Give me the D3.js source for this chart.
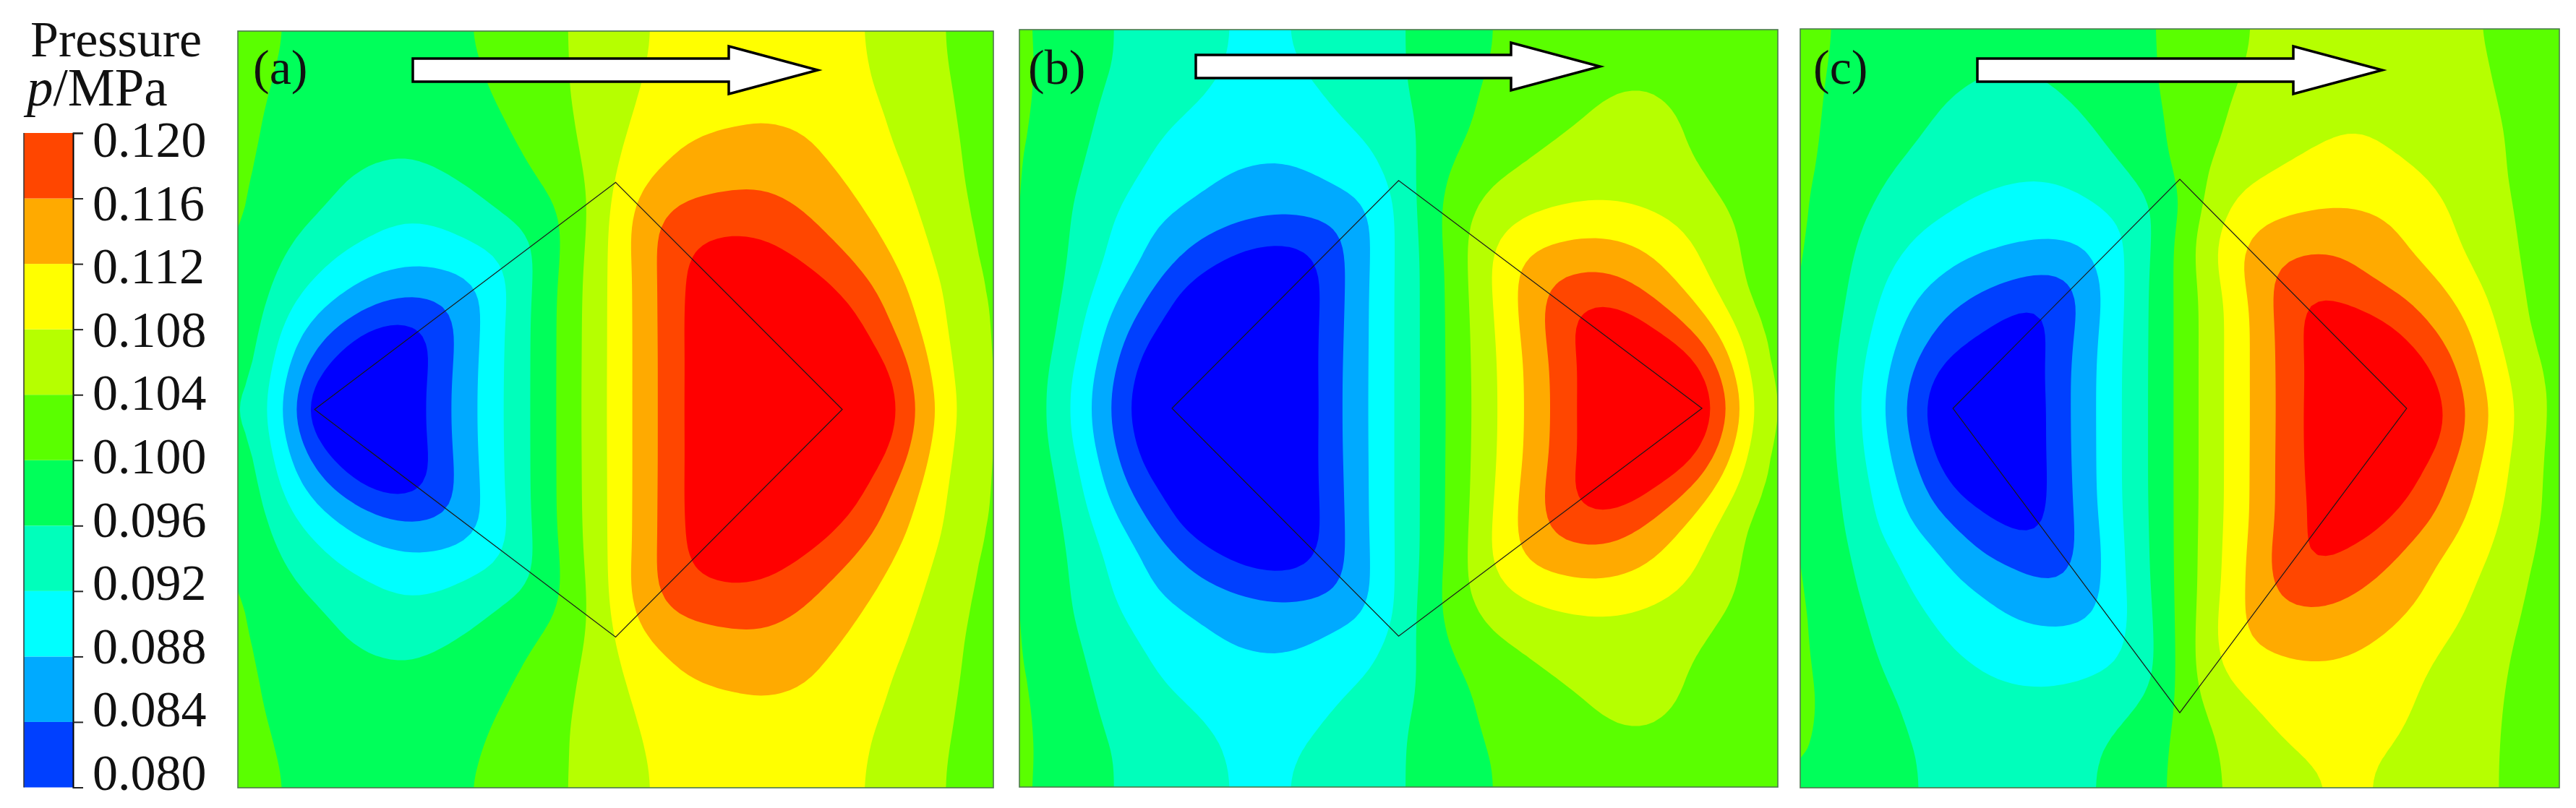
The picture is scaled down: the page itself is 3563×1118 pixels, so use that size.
<!DOCTYPE html>
<html lang="en">
<head>
<meta charset="UTF-8">
<title>Pressure contours</title>
<style>
  html, body { margin: 0; padding: 0; background: #fff; }
  svg { display: block; }
  text { font-family: "Liberation Serif", serif; fill: #111; }
</style>
</head>
<body>
<svg></svg>
<script src="https://d3js.org/d3.v7.min.js"></script>
<script>
// contour levels in 0.001 MPa
const levels = [80, 84, 88, 92, 96, 100, 104, 108, 112, 116, 120];
const tickLabels = ["0.080", "0.084", "0.088", "0.092", "0.096", "0.100", "0.104", "0.108", "0.112", "0.116", "0.120"];
const belowColor = "#0000ff";
const bandColors = ["#0040ff", "#00aaff", "#00ffff", "#00ffbb", "#00ff5a", "#5aff00", "#b6ff00", "#ffff00", "#ffaa00", "#ff4600", "#ff0000"];
const panelLabels = ["(a)", "(b)", "(c)"];

// pressure, top row down to the middle row (a and b are mirror symmetric)
const topA = [
  [102,100.5,99.5,99,98.5,98.5,98.5,99,99.9,101.1,102.3,103.5,104.9,106.3,107.8,109,109.8,110.4,110.8,110.6,110,108.8,107.3,105.9,104.5,103,102],
  [102,100.3,99.3,98.8,98.2,98,98,98.6,99.6,100.9,102.1,103.4,104.8,106.4,107.9,109.2,110.1,110.8,111.2,111,110.3,109,107.5,106.1,104.6,103.1,102],
  [101.8,100,98.9,98.2,97.7,97.4,97.4,97.9,99.1,100.6,102,103.4,104.9,106.6,108.3,109.7,110.4,110.5,110.7,110.6,110.3,109.3,107.8,106.3,104.9,103.4,102],
  [101.5,99.6,98.4,97.6,97.2,97,97,97.3,98.3,99.7,101.2,102.9,104.8,107,108.9,110.3,110.9,111.2,111.6,111.4,111,110.2,108.5,107,105.2,103.5,102],
  [101.3,99.5,98,97,96.9,96.6,96.6,96.9,97.8,99.1,100.4,102.4,104.5,107.6,109.5,111.9,112.8,113.4,113.7,113.2,111.8,110.3,108.8,107.3,105.8,103.7,102],
  [101,99,97.8,96.9,96.1,95.3,95.1,96,96.9,98,99.6,101.2,104,108,111.6,113.3,114.3,114.9,115.2,114.6,113.3,111.5,110,108,106,103.9,102],
  [100.9,98.9,97.6,96.3,94.7,93.3,92.8,93.5,94.8,96.7,98.3,99.8,103.3,109.2,113.9,116.4,117,117.2,117.2,116.2,114.9,112.7,110.9,108.8,106.5,104.2,102.3],
  [100.9,98.2,96,94.5,93,91.8,91.2,91.5,92.7,94,95.4,99,104,109.4,115.1,118.4,119.5,120.2,119.7,118.5,116.4,114.4,112.2,109.7,107.2,104.6,102.5],
  [100.5,97,94.9,92.3,90.2,89,88.3,88.6,89.8,91.2,94.9,99.7,104.5,109.4,114,118.9,122,123,122.6,121,119.2,116.6,113.8,110.8,107.9,105,102.7],
  [100,96.5,92.5,89.8,87.3,85.2,84.4,84.8,86,90.3,95.7,100.1,104.6,109.4,114,118.7,122.5,124,124.3,123.5,122,119.3,116.4,112,109.2,105.4,103],
  [100,95.1,90.1,86,82.9,80.6,79.6,81.5,86.2,91.3,95.7,100.1,104.8,109.3,114,118.6,123,124.6,125,124.8,124,122,118,113.4,109.3,105.6,103],
  [99.8,94.2,87.2,82.1,78,74,76,82.2,86.5,91.3,95.7,100.1,104.8,109.3,114,118.5,122.8,125,125.5,125.5,125,124,120.3,115.7,110.3,105.8,103],
  [98.5,93.4,85.1,78,74,72.5,78,82.4,86.9,91.4,95.7,100.1,104.9,109.3,114,118.5,122.8,125.5,126,126,126,125.5,123.5,117.4,111.1,106,103],
  [97,92.8,83.6,72,71,71,78.1,82.5,86.9,91.4,95.7,100.1,104.9,109.3,114,118.5,122.8,126,127,127,127,127,125,118.2,112.4,106.5,102.8]
];

const topB = [
  [101,99,98,96,95.2,94.5,93.2,92,91.5,91.6,92.7,93.8,94.8,95.7,96.8,98.2,99.9,100.8,101.5,102,102.5,102.8,102.8,102.6,102.3,101.8,101.4],
  [101.2,99.1,97.8,96.2,95.2,94.4,93.2,91.9,91.4,91.5,92.4,93.5,94.6,95.7,96.9,98.2,99.9,100.9,101.6,102.2,102.7,103,103,102.8,102.4,101.9,101.4],
  [101.2,99,97.3,95.7,94.8,93.8,92.4,91.6,91.3,91.3,91.6,92.9,94.2,95.5,97.1,98.7,100.5,101.6,102.5,103,103.8,104.2,103.9,103.1,102.6,101.9,101],
  [101.2,98.8,97,95.4,93.9,92.5,91.6,91,90.6,90.5,90.9,92,93.6,94.9,96.9,98.9,100.8,102,103,103.8,104.5,104.9,104.6,103.8,102.8,101.9,101],
  [101,98.4,96.6,95,93,91.4,90.5,89.5,89,88.9,89.4,90.5,91.7,93.6,97.6,99.6,101.5,103,104.1,104.6,104.9,105,104.6,104,103,102,101],
  [101,98.2,96.4,94.1,92.1,90.7,89.3,87.9,87.3,87.1,87.9,89.4,90.9,93.3,98,101,103.2,104.2,105,105.4,105.6,105.5,105,104.5,103.2,102,101],
  [101,98,95.5,93.2,90.9,89.1,87.7,86.7,85.9,85.4,85.6,86.4,87.4,92.5,98.5,102.1,104.9,106.4,107.5,108.2,108.6,108.1,107.2,106,104.1,102.7,101],
  [100.9,98,95.3,92.3,89.2,86.8,85,83.4,82,81.4,81.8,83,87.7,92.7,97.5,103,106.5,109.2,110.5,111.3,111.5,110.8,109.5,107.8,105.8,102.9,101],
  [101,98.2,94.7,91.6,89,85.4,82.2,79.4,77.5,77,78.5,83,88,92.6,97.3,101.9,107.6,112.2,114.2,115,115.2,114,112,109,106,103.2,101.5],
  [100.8,98,94,90.3,86.1,81.4,77.5,76,75,75,78,83.3,88.2,92.6,97.3,101.9,107.1,111.8,116.5,118.3,118.8,116.8,114.2,111.5,107.5,103,101.5],
  [100.7,97.4,93.2,88.1,83.4,79.9,76,74,74,75,78.5,83.4,88.2,92.6,97.3,101.8,106.7,111.5,116.2,121.2,122.8,122,118.4,114.7,110.3,105.2,101.8],
  [100.4,96.9,92.5,86.7,80.9,76.5,74,73,73,74,78.9,83.5,88.2,92.6,97.3,101.8,106.5,110.9,115.4,120.2,122.8,123.8,123,120,113.6,106.8,101.5],
  [100.4,95.8,91,85.4,79,75,73,72,72,73,79.1,83.7,88.2,92.6,97.3,101.7,106.4,110.7,115,120,123,124.5,125,125,116.9,108.4,101.2],
  [100.4,95.8,90.7,84.8,78,74,72,71,71,72,79.1,83.7,88.2,92.6,97.3,101.7,106.3,110.7,115,119.7,124,125,126,126,119.6,109.4,101.8]
];

// panel c is not symmetric, all rows
const gridC = [
  [102,99.8,99,98.5,98.3,98,97.8,97.8,97.9,98.1,98.5,99,99.7,101,102.2,103.4,104.8,105.4,105.8,105.9,105.8,105.5,105,104.4,103.2,102.6,102],
  [101.8,99.7,98.8,98.1,97.6,97.1,96.6,96.4,96.5,97,97.7,98.6,99.6,101,102.4,103.6,104.9,105.7,106.2,106.5,106.5,106.2,105.6,104.8,103.3,102.6,102],
  [101.6,99.5,98.5,97.7,97,96.4,95.8,95.2,95.4,96.6,97.6,98.6,99.6,101.1,102.7,104.1,105.3,106.1,106.6,106.8,106.8,106.5,105.9,105.1,103.5,102.6,102],
  [101.4,99.4,98.3,97.6,96.7,95.6,94.8,94.3,94,94.7,96.5,97.8,99,100.9,103,104.8,106,106.9,107.5,107.8,107.6,107.2,106.6,105.7,103.8,102.8,102],
  [101.3,99.3,98.2,97.1,95.8,94.9,94.2,93.6,93.2,93.7,95.2,97.1,98.9,101,103.4,105.2,106.3,107.3,108,108.4,107.8,107.4,106.7,105.7,104.2,102.9,102],
  [101.2,99,97.5,95.9,95,94,93.2,92.7,92.4,92.6,93.5,95.4,97.4,100.8,104.6,106.6,107.9,109,109.6,109.5,108.9,108.1,107.2,105.8,104.1,103,102],
  [101.1,98.6,96.9,95.3,94,92.7,91.5,90.8,90.7,90.9,91.8,93.7,95.4,99.2,105.1,109.2,110.3,111,111.4,111.5,111,109.9,108.2,106.6,104.5,103,102],
  [101,98.6,96.1,93.9,91.9,90.7,89.9,89.2,88.6,88.6,89.1,91,95.6,100.9,106.9,110.9,113.2,114,114.7,114.6,113.2,111,109,106.7,105,103.1,102],
  [101,98.2,95.4,92.5,90.6,88.9,87.3,86.6,85.9,85.6,87.2,91.5,96,101,106.8,112.6,115.4,116.6,116.8,115.4,114,112.5,110.2,107.5,105.2,103.2,102],
  [100.8,98,94.8,91.2,88.4,86.2,84.2,82.8,81.2,80.8,86,91.7,96.3,101,105.7,110.3,115.6,120.2,119.8,118.4,116.1,114.9,112.8,109.4,106,103.3,102],
  [100.7,97.7,94,90.2,86.6,83.2,81.5,79.4,77.5,81.8,86.7,91.8,96.3,101,105.7,110.1,114.6,120.1,122.5,122,120.6,117.1,114.2,111.9,106.7,103.3,102],
  [100.8,97.2,93.2,89.1,84.5,81.5,78.9,77,77.5,82.6,87.2,91.9,96.3,101,105.7,110.2,114.7,119.6,122.5,123.5,123.5,121,116.7,112.8,108.2,104.2,102],
  [100.8,96.9,92.6,88.1,82.8,77.2,74,75,78.3,82.8,87.4,92,96.3,101,105.7,110.2,114.7,119.4,122.5,124,124.5,123.5,119.2,113.8,109.1,105.1,102.5],
  [100.8,96.7,92.5,87.5,81.6,75,73,72,78,82.8,87.4,92,96.3,101,105.7,110.2,114.7,119.3,123,125,126,126,120.6,115.1,110.2,105.7,102],
  [100.8,96.8,92.7,88.2,82.6,76,74,73,78.3,82.7,87.4,92,96.3,101,105.7,110.2,114.7,119.4,122.8,124.5,125,124.5,120.5,114.2,109.8,105.5,102],
  [100.8,97,93.1,88.9,84.4,78.3,75,74,77.7,82.6,87.4,92,96.3,101,105.7,110.2,114.8,119.5,122.5,123.5,123.5,121.7,117.5,113,109,105.1,102],
  [100.8,97.4,93.9,90,85.8,81.5,78.5,77,77.2,82.4,87.4,92,96.3,101,105.7,110.2,114.8,119.5,122,122.5,122,120.4,116.1,112.2,108.5,105,102],
  [100.8,97.7,94.3,90.5,87.6,84.6,81.9,79.5,78.2,81.9,86.9,91.8,96.2,101,105.8,110.3,114.8,119.6,121.5,122,120.8,117.4,114.4,110.8,107.6,104.9,102],
  [100.9,98.1,95.2,92.8,90.2,87.9,84.2,83,81.3,81.6,86.1,91.6,96.1,101,106,110.6,115.6,120.6,121,119.6,117.2,114.5,111.8,109.5,107,104.1,102],
  [101,98.3,95.7,93.4,91.3,89.2,87.6,86.1,84.6,83.9,86,91.5,95.9,101,106,110.7,116.1,118.8,118.8,116.9,115,113.2,110.6,108.3,105.9,103.7,101.8],
  [101,98.7,96.5,94.4,92.6,91,89.4,87.8,86.8,86.5,87,90.6,95.5,101,106.3,112,114.5,115.2,115.2,114.2,113.2,111.8,109.7,107.5,105.3,103.4,101.8],
  [101,98.8,96.9,95,93.4,92,91,90,89.4,89.4,90,91,94.9,100.9,107,111.9,113,113.7,113.7,113,111.8,110.1,108.1,106.4,104.6,103,101.8],
  [101,99.1,97.5,95.6,94.3,93,92.1,91.2,90.9,90.9,91.4,92.4,94.2,101,107.3,109,110.4,111,111.1,110.7,109.7,108.7,107,105.6,104.3,103,101.8],
  [101,99.4,97.9,96.4,95.4,94.4,93.5,93,92.7,93,93.6,94.6,96.4,100.7,105.4,107.6,109.2,109.9,110.3,110.3,109.6,108.1,106.8,105.7,103.9,103,102],
  [100.6,99.5,98.2,96.4,95.6,95,94.7,94.5,94.5,94.8,95.3,96.1,98.4,100.5,104,105.3,107.9,108.9,109.4,109.4,109,107.4,106.4,105.4,103.9,102.8,101.8],
  [100.4,99.5,98.4,97.4,95.7,95.4,95.2,95.1,95.2,95.4,95.6,96.9,98.8,100.7,103.6,105,106.5,107.8,108.5,108.5,107.7,107,106,105,103.9,102.9,101.9],
  [99.8,99,98.3,97.2,95.8,95.4,95.2,95.2,95.3,95.5,95.6,96.9,98.9,100.9,103.2,105,106,106.7,108.3,108.5,107.8,106.8,106,105,103.9,102.9,102]
];

// diamond outlines in grid units: [column, row]
const diamondA = [[2.64, 13], [13, 5.2], [20.8, 13], [13, 20.82]];
const diamondB = [[5.23, 13], [13, 5.18], [23.4, 13], [13, 20.82]];
const diamondC = [[5.23, 13], [13, 5.15], [20.77, 13], [13, 23.43]];

const mirror = rows => [...rows, ...rows.slice(0, -1).reverse()];

const width = 3563;
const height = 1118;

const panels = [
  {label: panelLabels[0], grid: mirror(topA), diamond: diamondA, x: [329, 1374], y: [43, 1090], labelX: 350, arrow: {x0: 571, x1: 1008, x2: 1131, yc: 97, shaft: 16, head: 33}},
  {label: panelLabels[1], grid: mirror(topB), diamond: diamondB, x: [1410, 2459], y: [41, 1089], labelX: 1422, arrow: {x0: 1654, x1: 2090, x2: 2213, yc: 92, shaft: 16, head: 33}},
  {label: panelLabels[2], grid: gridC, diamond: diamondC, x: [2490, 3540], y: [40, 1090], labelX: 2508, arrow: {x0: 2735, x1: 3172, x2: 3295, yc: 97, shaft: 16, head: 33}}
];

// the read grid is coarse, so resample it finer and blur a little before contouring
const factor = 4;
const fine = 26 * factor + 1;

function refine(grid) {
  const data = new Float64Array(fine * fine);
  for (let j = 0; j < fine; j++) {
    const v = Math.min(j / factor, 25.9999), j0 = Math.floor(v), ty = v - j0;
    for (let i = 0; i < fine; i++) {
      const u = Math.min(i / factor, 25.9999), i0 = Math.floor(u), tx = u - i0;
      data[j * fine + i] =
        (grid[j0][i0] * (1 - tx) + grid[j0][i0 + 1] * tx) * (1 - ty) +
        (grid[j0 + 1][i0] * (1 - tx) + grid[j0 + 1][i0 + 1] * tx) * ty;
    }
  }
  d3.blur2({data, width: fine, height: fine}, 2);
  return data;
}

const svg = d3.select("svg").attr("width", width).attr("height", height);
const defs = svg.append("defs");

const contours = d3.contours().size([fine, fine]).thresholds(levels);

panels.forEach((p, i) => {
  const x = d3.scaleLinear().domain([0, 26]).range(p.x);
  const y = d3.scaleLinear().domain([0, 26]).range(p.y);

  defs.append("clipPath").attr("id", `clip${i}`)
    .append("rect")
      .attr("x", p.x[0]).attr("y", p.y[0])
      .attr("width", p.x[1] - p.x[0]).attr("height", p.y[1] - p.y[0]);

  const g = svg.append("g").attr("class", `panel-${i}`);

  const bands = g.append("g").attr("clip-path", `url(#clip${i})`);
  bands.append("rect")
    .attr("x", p.x[0]).attr("y", p.y[0])
    .attr("width", p.x[1] - p.x[0]).attr("height", p.y[1] - p.y[0])
    .attr("fill", belowColor);

  // d3.contours puts fine value k at k + 0.5
  const ring = d3.line()
    .x(d => x((d[0] - 0.5) / factor))
    .y(d => y((d[1] - 0.5) / factor))
    .curve(d3.curveLinearClosed);

  bands.selectAll("path")
    .data(contours(refine(p.grid)))
    .join("path")
      .attr("fill", (d, k) => bandColors[k])
      .attr("fill-rule", "evenodd")
      .attr("d", d => d.coordinates.map(poly => poly.map(r => ring(r.slice(0, -1))).join("")).join(""));

  // frame
  g.append("rect")
    .attr("x", p.x[0]).attr("y", p.y[0])
    .attr("width", p.x[1] - p.x[0]).attr("height", p.y[1] - p.y[0])
    .attr("fill", "none").attr("stroke", "#4d7a4d").attr("stroke-width", 1.6);

  // porous zone outline
  g.append("path")
    .datum(p.diamond)
    .attr("fill", "none").attr("stroke", "#1a1a1a").attr("stroke-width", 1.2)
    .attr("d", d3.line().x(d => x(d[0])).y(d => y(d[1])).curve(d3.curveLinearClosed));

  // flow arrow
  const a = p.arrow;
  g.append("path")
    .datum([[a.x0, a.yc - a.shaft], [a.x1, a.yc - a.shaft], [a.x1, a.yc - a.head], [a.x2, a.yc],
            [a.x1, a.yc + a.head], [a.x1, a.yc + a.shaft], [a.x0, a.yc + a.shaft]])
    .attr("fill", "#fff").attr("stroke", "#000").attr("stroke-width", 3.5)
    .attr("d", d3.line().curve(d3.curveLinearClosed));

  g.append("text")
    .attr("x", p.labelX).attr("y", 116)
    .attr("font-size", 68)
    .text(p.label);
});

// legend
const legendY = d3.scaleLinear().domain([80, 120]).range([1089.5, 184]);
const labelY = d3.scaleLinear().domain([80, 120]).range([1093, 217]);
const legend = svg.append("g").attr("class", "legend");

legend.selectAll("rect")
  .data(d3.pairs(levels))
  .join("rect")
    .attr("x", 33)
    .attr("y", d => legendY(d[1]))
    .attr("width", 68)
    .attr("height", d => legendY(d[0]) - legendY(d[1]))
    .attr("fill", (d, k) => bandColors[k]);

legend.append("g")
  .attr("transform", "translate(101,0)")
  .call(d3.axisRight(legendY).tickValues(levels).tickSize(14).tickFormat(""))
  .call(g => g.select(".domain").attr("stroke-width", 2))
  .call(g => g.selectAll("line").attr("stroke", "#222").attr("stroke-width", 2));

legend.append("line")
  .attr("x1", 33).attr("x2", 33).attr("y1", 184).attr("y2", 1089.5)
  .attr("stroke", "#333").attr("stroke-width", 1.5);

legend.selectAll("text.tick-label")
  .data(levels)
  .join("text")
    .attr("class", "tick-label")
    .attr("x", 128)
    .attr("y", d => labelY(d))
    .attr("font-size", 70)
    .text((d, k) => tickLabels[k]);

const title = svg.append("g").attr("class", "legend-title");
title.append("text").attr("x", 42).attr("y", 78).attr("font-size", 70).text("Pressure");
const unit = title.append("text").attr("x", 37).attr("y", 146).attr("font-size", 73);
unit.append("tspan").attr("font-style", "italic").text("p");
unit.append("tspan").text("/MPa");
</script>
</body>
</html>
